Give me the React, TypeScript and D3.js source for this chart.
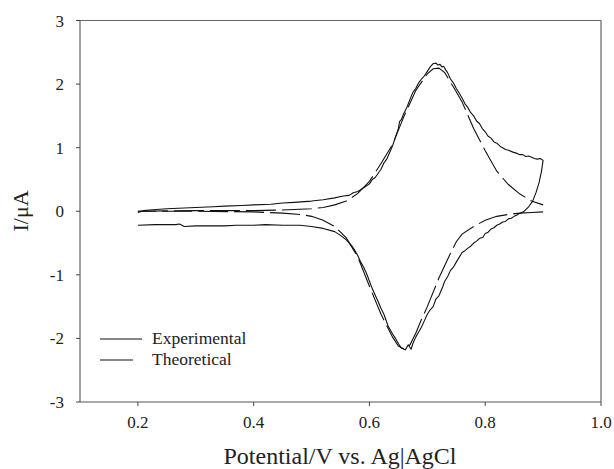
import React from "react";
import * as d3 from "d3";

// Experimental CV: forward scan then reverse scan, [potential V, current µA]
const expForward: [number, number][] = [
  [0.2, -0.02], [0.21, 0.01], [0.22, 0.02], [0.25, 0.04], [0.28, 0.05], [0.3, 0.06], [0.33, 0.07],
  [0.35, 0.08], [0.38, 0.09], [0.4, 0.1], [0.43, 0.11], [0.45, 0.13], [0.47, 0.14], [0.5, 0.16],
  [0.52, 0.18], [0.54, 0.21], [0.555, 0.24], [0.565, 0.25], [0.572, 0.29], [0.58, 0.31],
  [0.59, 0.37], [0.6, 0.43], [0.605, 0.5], [0.61, 0.53], [0.62, 0.66], [0.625, 0.76],
  [0.63, 0.82], [0.64, 1.03], [0.645, 1.17], [0.65, 1.3], [0.652, 1.41], [0.655, 1.44],
  [0.66, 1.55], [0.665, 1.64], [0.67, 1.76], [0.675, 1.87], [0.68, 1.93], [0.685, 2.02],
  [0.69, 2.08], [0.695, 2.13], [0.7, 2.2], [0.705, 2.27], [0.71, 2.32], [0.715, 2.33],
  [0.718, 2.3], [0.722, 2.31], [0.725, 2.27], [0.728, 2.28], [0.732, 2.22], [0.735, 2.18],
  [0.74, 2.08], [0.745, 2.02], [0.75, 1.93], [0.755, 1.86], [0.76, 1.78], [0.765, 1.69],
  [0.77, 1.63], [0.775, 1.55], [0.78, 1.5], [0.785, 1.42], [0.79, 1.38], [0.795, 1.3],
  [0.8, 1.25], [0.805, 1.18], [0.81, 1.15], [0.815, 1.09], [0.82, 1.07], [0.826, 1.02],
  [0.83, 1.0], [0.835, 0.97], [0.84, 0.96], [0.848, 0.93], [0.855, 0.91], [0.86, 0.89],
  [0.865, 0.89], [0.87, 0.86], [0.875, 0.87], [0.88, 0.85], [0.885, 0.83], [0.89, 0.82],
  [0.895, 0.83], [0.9, 0.8],
];
const expReverse: [number, number][] = [
  [0.9, 0.8], [0.897, 0.62], [0.893, 0.45], [0.888, 0.3], [0.882, 0.16], [0.875, 0.07],
  [0.866, -0.01], [0.86, -0.03], [0.855, -0.06], [0.85, -0.08], [0.845, -0.11], [0.84, -0.12],
  [0.835, -0.16], [0.83, -0.17], [0.825, -0.2], [0.82, -0.22], [0.815, -0.26], [0.81, -0.28],
  [0.805, -0.33], [0.8, -0.35], [0.796, -0.41], [0.79, -0.43], [0.785, -0.47], [0.78, -0.5],
  [0.775, -0.55], [0.77, -0.58], [0.765, -0.62], [0.76, -0.65], [0.756, -0.71], [0.75, -0.8],
  [0.745, -0.88], [0.74, -0.93], [0.735, -1.03], [0.73, -1.1], [0.727, -1.18], [0.72, -1.33],
  [0.715, -1.38], [0.71, -1.5], [0.705, -1.55], [0.7, -1.62], [0.695, -1.72], [0.69, -1.82],
  [0.685, -1.9], [0.68, -1.98], [0.675, -2.08], [0.672, -2.17], [0.667, -2.1], [0.662, -2.18],
  [0.655, -2.15], [0.65, -2.08], [0.645, -2.0], [0.64, -1.93], [0.632, -1.8], [0.625, -1.62],
  [0.62, -1.53], [0.615, -1.42], [0.61, -1.32], [0.605, -1.22], [0.6, -1.1], [0.595, -0.98],
  [0.59, -0.88], [0.585, -0.8], [0.58, -0.7], [0.575, -0.62], [0.57, -0.55], [0.56, -0.45],
  [0.55, -0.38], [0.54, -0.32], [0.52, -0.27], [0.5, -0.24], [0.48, -0.22], [0.45, -0.22],
  [0.42, -0.21], [0.4, -0.22], [0.37, -0.22], [0.35, -0.23], [0.32, -0.23], [0.3, -0.23],
  [0.28, -0.24], [0.272, -0.2], [0.265, -0.21], [0.25, -0.21], [0.23, -0.21], [0.2, -0.22],
];

// Theoretical CV
const theoForward: [number, number][] = [
  [0.2, 0.0], [0.3, 0.01], [0.4, 0.01], [0.45, 0.02], [0.5, 0.04], [0.52, 0.06], [0.54, 0.1],
  [0.56, 0.16], [0.58, 0.28], [0.6, 0.47], [0.62, 0.75], [0.64, 1.05], [0.66, 1.5],
  [0.68, 1.9], [0.7, 2.16], [0.71, 2.24], [0.72, 2.25], [0.73, 2.18], [0.74, 2.03],
  [0.75, 1.88], [0.76, 1.72], [0.78, 1.3], [0.8, 0.95], [0.82, 0.63], [0.84, 0.42],
  [0.86, 0.27], [0.88, 0.16], [0.9, 0.1],
];
const theoReverse: [number, number][] = [
  [0.9, -0.01], [0.88, -0.02], [0.86, -0.03], [0.84, -0.05], [0.82, -0.08], [0.8, -0.14],
  [0.78, -0.24], [0.76, -0.36], [0.75, -0.48], [0.74, -0.66], [0.72, -1.05], [0.7, -1.5],
  [0.69, -1.7], [0.68, -1.92], [0.67, -2.1], [0.66, -2.17], [0.65, -2.12], [0.64, -1.98],
  [0.62, -1.62], [0.6, -1.18], [0.58, -0.72], [0.56, -0.42], [0.54, -0.24], [0.52, -0.14],
  [0.5, -0.08], [0.48, -0.05], [0.45, -0.03], [0.4, -0.01], [0.3, 0.0], [0.2, 0.0],
];

const xTicks = [0.2, 0.4, 0.6, 0.8, 1.0];
const yTicks = [-3, -2, -1, 0, 1, 2, 3];
const legendLabels = ["Experimental", "Theoretical"];

const W = 614;
const H = 469;
const font = "'Liberation Serif', 'Times New Roman', serif";

export default function App() {
  const x = d3.scaleLinear().domain([0.1, 1.0]).range([80, 601]);
  const y = d3.scaleLinear().domain([-3, 3]).range([402, 20.5]);
  const line = d3
    .line<[number, number]>()
    .x((d) => x(d[0]))
    .y((d) => y(d[1]));
  const expPath = line(expForward.concat(expReverse.slice(1))) || "";
  const theoF = line(theoForward) || "";
  const theoR = line(theoReverse) || "";
  const dash = "30,6";
  const axisColor = "#444";
  const textColor = "#222";
  return (
    <svg
      width={W}
      height={H}
      style={{ position: "absolute", left: 0, top: 0, background: "#fff" }}
      fontFamily={font}
    >
      <rect x={0} y={0} width={W} height={H} fill="#fff" />
      {/* frame */}
      <line x1={x(0.1)} x2={x(0.1)} y1={y(3)} y2={y(-3)} stroke={axisColor} strokeWidth={1} />
      <line x1={x(1.0)} x2={x(1.0)} y1={y(3)} y2={y(-3)} stroke={axisColor} strokeWidth={1} />
      <line x1={x(0.1)} x2={x(1.0)} y1={y(3)} y2={y(3)} stroke="#666" strokeWidth={1} />
      <line x1={x(0.1)} x2={x(1.0)} y1={y(-3)} y2={y(-3)} stroke="#555" strokeWidth={1} />
      {yTicks.map((t) => (
        <g key={"y" + t}>
          <line x1={x(0.1) - 4} x2={x(0.1)} y1={y(t)} y2={y(t)} stroke={axisColor} />
          <text x={64} y={y(t) + 6} textAnchor="end" fontSize={17} fill={textColor}>
            {t}
          </text>
        </g>
      ))}
      {xTicks.map((t) => (
        <g key={"x" + t}>
          <line x1={x(t)} x2={x(t)} y1={y(-3)} y2={y(-3) + 4} stroke={axisColor} />
          <text x={x(t)} y={428} textAnchor="middle" fontSize={17} fill={textColor}>
            {t.toFixed(1)}
          </text>
        </g>
      ))}
      <text x={340} y={464} textAnchor="middle" fontSize={24} fill={textColor}>
        Potential/V vs. Ag|AgCl
      </text>
      <text
        transform="translate(28,211) rotate(-90)"
        textAnchor="middle"
        fontSize={22}
        fill={textColor}
      >
        I/μA
      </text>
      {/* curves */}
      <path d={expPath} fill="none" stroke="#111" strokeWidth={1.1} strokeLinejoin="round" />
      <path d={theoF} fill="none" stroke="#111" strokeWidth={1.1} strokeDasharray={dash} />
      <path d={theoR} fill="none" stroke="#111" strokeWidth={1.1} strokeDasharray={dash} />
      {/* legend */}
      <line x1={100} x2={142} y1={339} y2={339} stroke="#111" strokeWidth={1.2} />
      <line x1={100} x2={133} y1={360} y2={360} stroke="#111" strokeWidth={1.2} />
      <text x={152} y={344} fontSize={17.5} fill={textColor}>
        {legendLabels[0]}
      </text>
      <text x={152} y={365} fontSize={17.5} fill={textColor}>
        {legendLabels[1]}
      </text>
    </svg>
  );
}
